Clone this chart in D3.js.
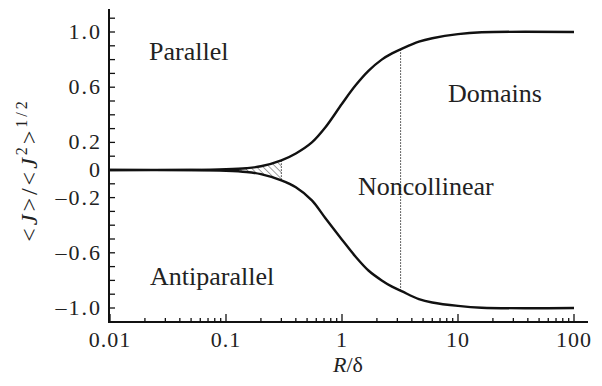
<!DOCTYPE html>
<html>
<head>
<meta charset="utf-8">
<script src="https://cdn.jsdelivr.net/npm/d3@7"></script>
<style>
  body { margin: 0; background: #fff; }
  text { font-family: "Liberation Serif", "DejaVu Serif", serif; fill: #222; }
</style>
</head>
<body>
<div id="chart"></div>
<script>
// R/delta sample points
var rVals  = [0.01, 0.05, 0.1, 0.15, 0.2, 0.3, 0.4, 0.55, 0.72, 1.0, 1.3, 1.7, 2.2, 2.7, 3.3, 4.6, 6, 10, 16, 100];
var upper  = [0, 0, 0.005, 0.013, 0.027, 0.07, 0.12, 0.2, 0.31, 0.48, 0.61, 0.72, 0.8, 0.845, 0.88, 0.93, 0.955, 0.985, 0.998, 1.0];
var lower  = [0, 0, -0.005, -0.014, -0.03, -0.075, -0.125, -0.22, -0.35, -0.505, -0.625, -0.73, -0.8, -0.845, -0.88, -0.935, -0.96, -0.985, -0.998, -1.0];
var yTicks = [1.0, 0.6, 0.2, 0, -0.2, -0.6, -1.0];
var xTicks = [0.01, 0.1, 1, 10, 100];
var hatchR = [0.1, 0.3];    // hatched noncollinear onset
var dotR   = 3.2;           // noncollinear / domains boundary

var w = 602, h = 386;
var x = d3.scaleLog().domain([0.01, 100]).range([110, 574]);
var y = d3.scaleLinear().domain([-1, 1]).range([308, 32]);
var x0 = 109, yb = 322, yTop = 9, xEnd = 588;

var svg = d3.select("#chart").append("svg").attr("width", w).attr("height", h);

// hatch pattern
var defs = svg.append("defs");
var pat = defs.append("pattern").attr("id", "hatch").attr("patternUnits", "userSpaceOnUse")
  .attr("width", 4.5).attr("height", 4.5).attr("patternTransform", "rotate(-45)");
pat.append("line").attr("x1", 0).attr("y1", 0).attr("x2", 0).attr("y2", 4.5)
  .attr("stroke", "#444").attr("stroke-width", 1);

function valAt(arr, r) {
  var lr = Math.log10(r);
  for (var i = 0; i < rVals.length - 1; i++) {
    var a = Math.log10(rVals[i]), b = Math.log10(rVals[i + 1]);
    if (lr >= a && lr <= b) return arr[i] + (arr[i + 1] - arr[i]) * (lr - a) / (b - a);
  }
  return arr[arr.length - 1];
}

// hatched area between curves
var hatchPts = [];
for (var k = 0; k <= 20; k++) {
  var lr = Math.log10(hatchR[0]) + (Math.log10(hatchR[1]) - Math.log10(hatchR[0])) * k / 20;
  hatchPts.push(Math.pow(10, lr));
}
svg.append("path")
  .datum(hatchPts)
  .attr("d", d3.area()
    .x(function(d) { return x(d); })
    .y0(function(d) { return y(valAt(lower, d)); })
    .y1(function(d) { return y(valAt(upper, d)); }))
  .attr("fill", "url(#hatch)");

// dotted verticals
[hatchR[1], dotR].forEach(function(r) {
  svg.append("line")
    .attr("x1", x(r)).attr("x2", x(r))
    .attr("y1", y(valAt(upper, r))).attr("y2", y(valAt(lower, r)))
    .attr("stroke", "#333").attr("stroke-width", 1).attr("stroke-dasharray", "1.5,1.5");
});

// curves
var line = d3.line().curve(d3.curveCatmullRom.alpha(0.5))
  .x(function(d) { return x(d[0]); })
  .y(function(d) { return y(d[1]); });
[upper, lower].forEach(function(arr) {
  svg.append("path")
    .datum(rVals.map(function(r, i) { return [r, arr[i]]; }))
    .attr("d", line)
    .attr("fill", "none").attr("stroke", "#111").attr("stroke-width", 2.4);
});

// axes lines
svg.append("line").attr("x1", x0).attr("x2", x0).attr("y1", yTop).attr("y2", yb)
  .attr("stroke", "#111").attr("stroke-width", 2);
svg.append("line").attr("x1", x0 - 1).attr("x2", xEnd).attr("y1", yb).attr("y2", yb)
  .attr("stroke", "#111").attr("stroke-width", 2);

// y ticks every 0.1
var yMinor = d3.range(-11, 12).map(function(v) { return v / 10; });
svg.selectAll(".ytick").data(yMinor).enter().append("line")
  .attr("x1", x0).attr("x2", x0 + 6)
  .attr("y1", function(d) { return y(d); }).attr("y2", function(d) { return y(d); })
  .attr("stroke", "#111").attr("stroke-width", 1.3);

svg.selectAll(".ylab").data(yTicks).enter().append("text")
  .attr("x", 102).attr("y", function(d) { return y(d) + 7; })
  .attr("text-anchor", "end").attr("font-size", "22px").attr("letter-spacing", "2px")
  .text(function(d) { return d === 0 ? "0" : (d < 0 ? "\u2013" : "") + Math.abs(d).toFixed(1); });

// x ticks (log minor)
var xMinor = [];
[0.01, 0.1, 1, 10].forEach(function(dec) {
  for (var m = 2; m <= 9; m++) xMinor.push(dec * m);
});
svg.selectAll(".xminor").data(xMinor).enter().append("line")
  .attr("x1", function(d) { return x(d); }).attr("x2", function(d) { return x(d); })
  .attr("y1", yb).attr("y2", yb - 4)
  .attr("stroke", "#111").attr("stroke-width", 1.3);
svg.selectAll(".xmajor").data(xTicks).enter().append("line")
  .attr("x1", function(d) { return x(d); }).attr("x2", function(d) { return x(d); })
  .attr("y1", yb).attr("y2", yb - 8)
  .attr("stroke", "#111").attr("stroke-width", 1.3);

svg.selectAll(".xlab").data(xTicks).enter().append("text")
  .attr("x", function(d) { return x(d); }).attr("y", 347)
  .attr("text-anchor", "middle").attr("font-size", "22px").attr("letter-spacing", "1px")
  .text(function(d) { return String(d); });

// axis titles
var xt = svg.append("text").attr("x", 348).attr("y", 372).attr("text-anchor", "middle").attr("font-size", "22px");
xt.append("tspan").attr("font-style", "italic").text("R");
xt.append("tspan").text("/\u03b4");

var yt = svg.append("text").attr("transform", "translate(37,170) rotate(-90)")
  .attr("text-anchor", "middle").attr("font-size", "24px").attr("letter-spacing", "3px");
yt.append("tspan").text("<");
yt.append("tspan").attr("font-style", "italic").text("J");
yt.append("tspan").text(">/<");
yt.append("tspan").attr("font-style", "italic").text("J");
yt.append("tspan").attr("font-size", "16px").attr("dy", -10).text("2");
yt.append("tspan").attr("dy", 10).text(">");
yt.append("tspan").attr("font-size", "16px").attr("dy", -10).text("1/2");

// region labels
var labels = [
  { t: "Parallel", x: 149, y: 60 },
  { t: "Domains", x: 448, y: 102 },
  { t: "Noncollinear", x: 358, y: 195 },
  { t: "Antiparallel", x: 150, y: 285 }
];
svg.selectAll(".rlab").data(labels).enter().append("text")
  .attr("x", function(d) { return d.x; }).attr("y", function(d) { return d.y; })
  .attr("font-size", "26px")
  .text(function(d) { return d.t; });
</script>
</body>
</html>
